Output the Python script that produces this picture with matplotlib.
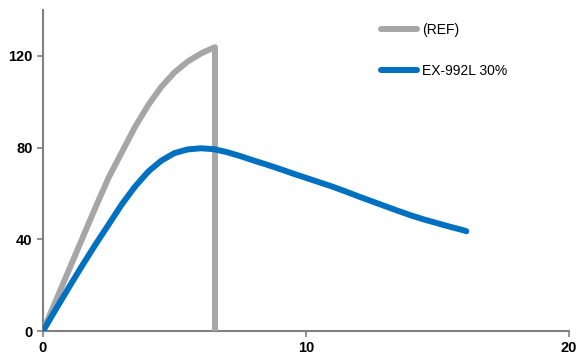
import matplotlib
matplotlib.use('Agg')
import matplotlib.pyplot as plt

# Curve data
ref_x = [0, 0.5, 1, 1.5, 2, 2.5, 3, 3.5, 4, 4.5, 5, 5.5, 6, 6.3, 6.54, 6.54]
ref_y = [0, 13.5, 27, 40.5, 54, 67, 78, 89, 98.5, 106.5, 112.8, 117.5, 121, 122.6,
         123.8, 0]

ex_x = [0, 0.5, 1, 1.5, 2, 2.5, 3, 3.5, 4, 4.5, 5, 5.5, 6, 6.5, 7, 7.5, 8, 8.5, 9,
        9.5, 10, 10.5, 11, 11.5, 12, 12.5, 13, 13.5, 14, 14.5, 15, 15.5, 16, 16.1]
ex_y = [0, 9.7, 19.3, 28.7, 37.8, 46.5, 55.3, 63, 69.5, 74.3, 77.6, 79.2, 79.7, 79.3,
        78, 76.3, 74.4, 72.6, 70.7, 68.7, 66.8, 64.9, 63, 60.9, 58.7, 56.6, 54.5,
        52.4, 50.4, 48.6, 47, 45.4, 43.9, 43.5]

series_names = ['(REF)', 'EX-992L 30%']
xticks = [0, 10, 20]
yticks = [0, 40, 80, 120]

plt.rcParams['font.family'] = ['Liberation Sans', 'DejaVu Sans']

fig = plt.figure(figsize=(5.77, 3.58), dpi=100)
ax = fig.add_axes([0.0745, 0.0754, 0.9115, 0.8966])

ax.plot(ref_x, ref_y, color='#A6A6A6', lw=4.3, solid_capstyle='round',
        solid_joinstyle='round', label=series_names[0])
ax.plot(ex_x, ex_y, color='#0070C0', lw=4.3, solid_capstyle='round',
        solid_joinstyle='round', label=series_names[1])

ax.set_xlim(0, 20)
ax.set_ylim(0, 140)
ax.set_xticks(xticks)
ax.set_yticks(yticks)
for s in ['top', 'right']:
    ax.spines[s].set_visible(False)
for s in ['left', 'bottom']:
    ax.spines[s].set_color('#808080')
    ax.spines[s].set_linewidth(1.5)
    ax.spines[s].set_zorder(0)
ax.tick_params(colors='#808080', length=4, width=1.2, labelcolor='black',
               labelsize=10.5)
for lab in ax.get_xticklabels() + ax.get_yticklabels():
    lab.set_fontweight('bold')

ax.legend(loc='upper left', bbox_to_anchor=(0.629, 0.982), frameon=False,
          borderpad=0, handlelength=2.6, handletextpad=0.4, labelspacing=1.95,
          fontsize=10)

fig.savefig('out.png', dpi=100)
